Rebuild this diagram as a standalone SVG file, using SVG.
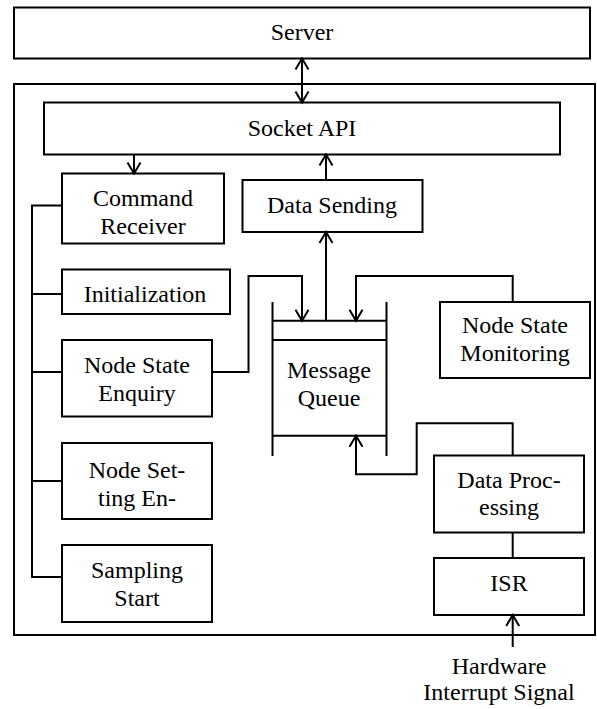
<svg xmlns="http://www.w3.org/2000/svg" width="597" height="709" viewBox="0 0 597 709">
<style>
.box{fill:#fff;stroke:#000;stroke-width:2}
.ln{fill:none;stroke:#000;stroke-width:2}
.t{font-family:"Liberation Serif","Times New Roman",serif;font-size:24px;fill:#000;text-anchor:middle}
</style>
<defs>
<marker id="ah" viewBox="-13 -8 15 16" refX="0" refY="0" markerWidth="15" markerHeight="16" markerUnits="userSpaceOnUse" orient="auto-start-reverse">
<path d="M-11,-6.5 L0,0 L-11,6.5" fill="none" stroke="#000" stroke-width="2"/>
</marker>
</defs>
<rect width="597" height="709" fill="#fff"/>
<g id="server"><rect class="box" x="14" y="7.5" width="576" height="51"/><text class="t" x="302" y="40">Server</text></g>
<g id="device"><rect class="box" x="14" y="84" width="581" height="551"/></g>
<g id="socket-api"><rect class="box" x="44" y="102.5" width="516" height="52"/><text class="t" x="302" y="136">Socket API</text></g>
<g id="command-receiver"><rect class="box" x="62" y="173.5" width="162" height="70"/><text class="t" x="143" y="206">Command</text><text class="t" x="143" y="234">Receiver</text></g>
<g id="data-sending"><rect class="box" x="242.5" y="180" width="180" height="52"/><text class="t" x="332" y="213">Data Sending</text></g>
<g id="initialization"><rect class="box" x="62" y="269.5" width="168" height="44.5"/><text class="t" x="145" y="302">Initialization</text></g>
<g id="node-state-enquiry"><rect class="box" x="62" y="340" width="150" height="76.5"/><text class="t" x="137" y="373">Node State</text><text class="t" x="137" y="401">Enquiry</text></g>
<g id="node-setting"><rect class="box" x="62" y="443" width="150" height="76"/><text class="t" x="137" y="478">Node Set-</text><text class="t" x="137" y="506">ting En-</text></g>
<g id="sampling-start"><rect class="box" x="62" y="545" width="150" height="77"/><text class="t" x="137" y="578">Sampling</text><text class="t" x="137" y="606">Start</text></g>
<g id="message-queue">
<path class="ln" d="M272.5,302 V456 M386.5,302 V456 M272.5,320.7 H386.5 M272.5,340 H386.5 M272.5,435.7 H386.5"/>
<text class="t" x="329" y="378">Message</text><text class="t" x="329" y="406">Queue</text></g>
<g id="node-state-monitoring"><rect class="box" x="440" y="302" width="150" height="76"/><text class="t" x="515" y="333">Node State</text><text class="t" x="515" y="361">Monitoring</text></g>
<g id="data-processing"><rect class="box" x="434" y="455.5" width="150" height="77"/><text class="t" x="509" y="488">Data Proc-</text><text class="t" x="509" y="515">essing</text></g>
<g id="isr"><rect class="box" x="434" y="558" width="150" height="57"/><text class="t" x="509" y="591">ISR</text></g>
<g id="hardware-label"><text class="t" x="499" y="674">Hardware</text><text class="t" x="499" y="700">Interrupt Signal</text></g>
<g id="connectors">
<path class="ln" d="M302,58.5 V102.5" marker-start="url(#ah)" marker-end="url(#ah)"/>
<path class="ln" d="M134,154.5 V173.5" marker-end="url(#ah)"/>
<path class="ln" d="M326,180 V154.5" marker-end="url(#ah)"/>
<path class="ln" d="M326,320.7 V232" marker-end="url(#ah)"/>
<path class="ln" d="M62,205.5 H32 V577 H62 M32,294 H62 M32,372 H62 M32,481 H62"/>
<path class="ln" d="M212,372 H248.5 V276 H302 V320.7" marker-end="url(#ah)"/>
<path class="ln" d="M512.7,302 V276 H356 V320.7" marker-end="url(#ah)"/>
<path class="ln" d="M512.7,455.5 V423.3 H416.7 V474.3 H356 V435.7" marker-end="url(#ah)"/>
<path class="ln" d="M512.7,532.5 V558"/>
<path class="ln" d="M512.7,647 V615" marker-end="url(#ah)"/>
</g>
</svg>
